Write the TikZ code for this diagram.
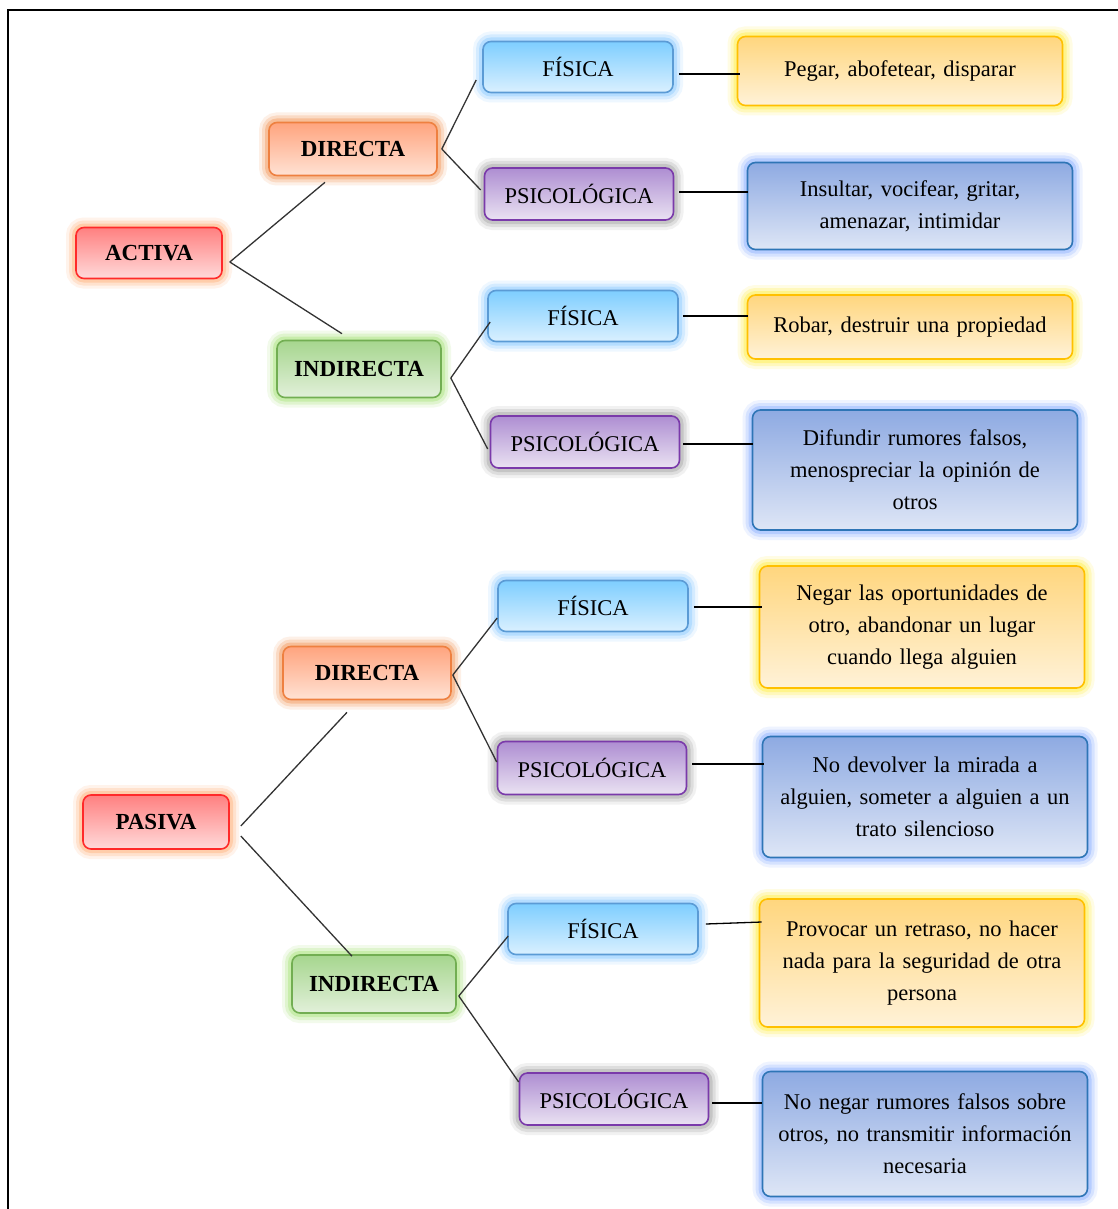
\documentclass[tikz,border=0pt]{standalone}
\usepackage{fontspec}
\setmainfont{Liberation Serif}
\usetikzlibrary{calc}
\definecolor{redB}{HTML}{FF2A2A}\definecolor{redT}{HTML}{FF8080}\definecolor{redD}{HTML}{FFDADA}\definecolor{redG}{HTML}{FFA868}
\definecolor{orB}{HTML}{EE8040}\definecolor{orT}{HTML}{FFA47E}\definecolor{orD}{HTML}{FFE2D4}\definecolor{orG}{HTML}{F28C48}
\definecolor{grB}{HTML}{72AE52}\definecolor{grT}{HTML}{A6D68E}\definecolor{grD}{HTML}{E2F0DA}\definecolor{grG}{HTML}{9EE06A}
\definecolor{lbB}{HTML}{5B9BD5}\definecolor{lbT}{HTML}{7ECEFF}\definecolor{lbD}{HTML}{DAF0FF}\definecolor{lbG}{HTML}{7CC4FF}
\definecolor{puB}{HTML}{7A3AAA}\definecolor{puT}{HTML}{AE8ED2}\definecolor{puD}{HTML}{EAE2F2}\definecolor{puG}{HTML}{9A9A9A}
\definecolor{yeB}{HTML}{FFC000}\definecolor{yeT}{HTML}{FFD67E}\definecolor{yeD}{HTML}{FFF2D8}\definecolor{yeG}{HTML}{FFEE30}
\definecolor{dbB}{HTML}{2E75B6}\definecolor{dbT}{HTML}{8EAAE2}\definecolor{dbD}{HTML}{DEE6F6}\definecolor{dbG}{HTML}{7EA6FF}
\tikzset{
  box/.style={rounded corners=8pt, line width=1.6pt, inner sep=0pt, align=center,
    font=\fontsize{22.5}{32}\selectfont},
  glow/.style={preaction={draw=#1, line width=20pt, draw opacity=0.13},
               preaction={draw=#1, line width=14pt, draw opacity=0.22},
               preaction={draw=#1, line width=8pt, draw opacity=0.35}},
  redbox/.style={box, glow=redG, draw=redB, top color=redT, bottom color=redD, minimum width=146pt, minimum height=51pt},
  orbox/.style={box, glow=orG, draw=orB, top color=orT, bottom color=orD, minimum width=168pt, minimum height=53pt},
  grbox/.style={box, glow=grG, draw=grB, top color=grT, bottom color=grD, minimum width=164pt, minimum height=57pt},
  lbbox/.style={box, glow=lbG, draw=lbB, top color=lbT, bottom color=lbD, minimum width=190pt, minimum height=51pt},
  pubox/.style={box, glow=puG, draw=puB, top color=puT, bottom color=puD, minimum width=189pt, minimum height=52pt},
  yebox/.style={box, glow=yeG, draw=yeB, top color=yeT, bottom color=yeD, minimum width=325pt, text width=318pt},
  dbbox/.style={box, glow=dbG, draw=dbB, top color=dbT, bottom color=dbD, minimum width=325pt, text width=318pt},
  lbl/.style={font=\fontsize{23}{28}\selectfont\bfseries},
  conn/.style={draw=black!80, line width=1.3pt},
  hconn/.style={draw=black, line width=1.3pt}
}
\begin{document}
\begin{tikzpicture}[x=1pt,y=-1pt]
\useasboundingbox (0,0) rectangle (1118,1209);
\fill[white] (0,0) rectangle (1118,1209);
\draw[line width=2pt] (8,1209) -- (8,10) -- (1118,10);

% top half
\node[redbox, lbl] (act) at (149,253) {ACTIVA};
\node[orbox, lbl] (dir1) at (353,149) {DIRECTA};
\node[grbox, lbl] (ind1) at (359,369) {INDIRECTA};
\node[lbbox] (fis1) at (578,67) {FÍSICA};
\node[pubox] (psi1) at (579,194) {PSICOLÓGICA};
\node[lbbox] (fis2) at (583,316) {FÍSICA};
\node[pubox] (psi2) at (585,442) {PSICOLÓGICA};
\node[yebox, minimum height=69pt] (peg) at (900,71) {Pegar, abofetear, disparar};
\node[dbbox, minimum height=87pt] (ins) at (910,206) {Insultar, vocifear, gritar,\\amenazar, intimidar};
\node[yebox, minimum height=64pt] (rob) at (910,327) {Robar, destruir una propiedad};
\node[dbbox, minimum height=120pt] (dif) at (915,470) {Difundir rumores falsos,\\menospreciar la opinión de\\otros};

% bottom half
\node[redbox, lbl, minimum height=54pt] (pas) at (156,822) {PASIVA};
\node[orbox, lbl] (dir2) at (367,673) {DIRECTA};
\node[grbox, lbl, minimum height=58pt] (ind2) at (374,984) {INDIRECTA};
\node[lbbox] (fis3) at (593,606) {FÍSICA};
\node[pubox, minimum height=53pt] (psi3) at (592,768) {PSICOLÓGICA};
\node[lbbox] (fis4) at (603,929) {FÍSICA};
\node[pubox] (psi4) at (614,1099) {PSICOLÓGICA};
\node[yebox, minimum height=122pt] (neg) at (922,627) {Negar las oportunidades de\\otro, abandonar un lugar\\cuando llega alguien};
\node[dbbox, minimum height=121pt] (nod) at (925,797) {No devolver la mirada a\\alguien, someter a alguien a un\\trato silencioso};
\node[yebox, minimum height=128pt] (pro) at (922,963) {Provocar un retraso, no hacer\\nada para la seguridad de otra\\persona};
\node[dbbox, minimum height=125pt] (non) at (925,1134) {No negar rumores falsos sobre\\otros, no transmitir información\\necesaria};

% connectors top
\draw[conn] ($(act.east)+(7,9)$) -- ($(dir1.south)+(-28,6)$);
\draw[conn] ($(act.east)+(7,9)$) -- ($(ind1.north)+(-17,-6)$);
\draw[conn] ($(dir1.east)+(4,0)$) -- ($(fis1.west)+(-6,13)$);
\draw[conn] ($(dir1.east)+(4,0)$) -- ($(psi1.west)+(-3,-4)$);
\draw[hconn] ($(fis1.east)+(5,7)$) -- ($(peg.west)+(3,3)$);
\draw[hconn] ($(psi1.east)+(5,-2)$) -- ($(ins.west)+(1,-14)$);
\draw[conn] ($(ind1.east)+(9,9)$) -- ($(fis2.west)+(3,6)$);
\draw[conn] ($(ind1.east)+(9,9)$) -- ($(psi2.west)+(-2,7)$);
\draw[hconn] ($(fis2.east)+(4,0)$) -- ($(rob.west)+(1,-11)$);
\draw[hconn] ($(psi2.east)+(3,2)$) -- ($(dif.west)+(1,-26)$);

% connectors bottom
\draw[conn] ($(pas.east)+(11,4)$) -- ($(dir2.south)+(-20,12)$);
\draw[conn] ($(pas.east)+(11,14)$) -- ($(ind2.north)+(-22,2)$);
\draw[conn] ($(dir2.east)+(1,2)$) -- ($(fis3.west)+(0,12)$);
\draw[conn] ($(dir2.east)+(1,2)$) -- ($(psi3.west)+(0,-6)$);
\draw[hconn] ($(fis3.east)+(5,1)$) -- ($(neg.west)+(3,-20)$);
\draw[hconn] ($(psi3.east)+(5,-4)$) -- ($(nod.west)+(2,-33)$);
\draw[conn] ($(ind2.east)+(2,12)$) -- ($(fis4.west)+(1,7)$);
\draw[conn] ($(ind2.east)+(2,12)$) -- ($(psi4.west)+(0,-17)$);
\draw[hconn] ($(fis4.east)+(7,-5)$) -- ($(pro.west)+(3,-41)$);
\draw[hconn] ($(psi4.east)+(3,4)$) -- ($(non.west)+(0,-31)$);
\end{tikzpicture}
\end{document}
